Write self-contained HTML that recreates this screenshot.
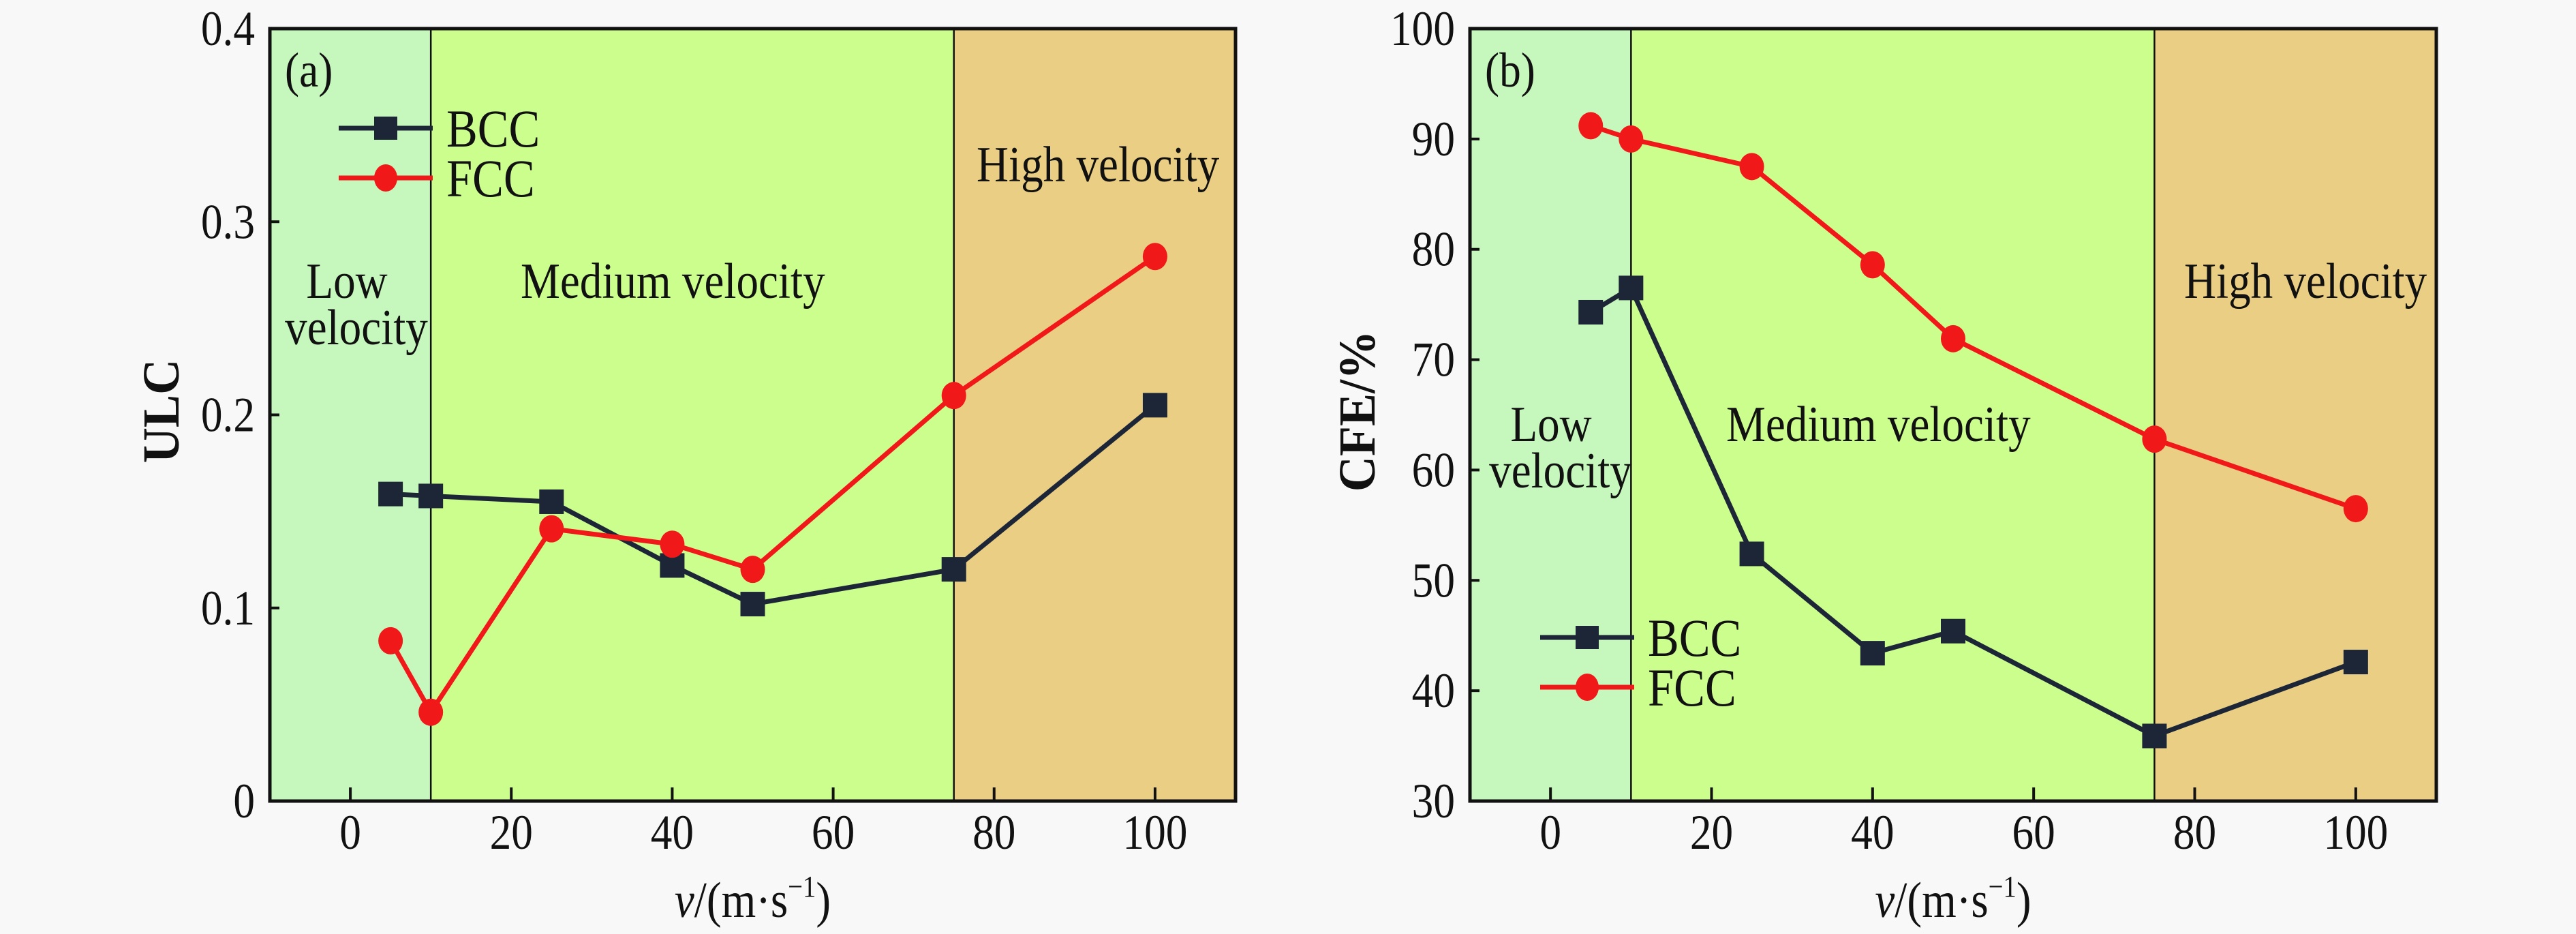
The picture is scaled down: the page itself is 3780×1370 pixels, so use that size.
<!DOCTYPE html>
<html><head><meta charset="utf-8"><style>
html,body{margin:0;padding:0;background:#f8f8f8;}
svg{display:block;}
svg text{font-family:"Liberation Serif","DejaVu Serif",serif;fill:#111;}
</style></head><body>
<svg id="chart" width="3780" height="1370" viewBox="0 0 3780 1370" xmlns="http://www.w3.org/2000/svg" font-family="Liberation Serif, DejaVu Serif, serif">
<rect x="0" y="0" width="3780" height="1370" fill="#f8f8f8"/>
</svg>
<script>
// ---- data ----
const velocities = [5, 10, 25, 40, 50, 75, 100];
const ulcBCC = [0.159, 0.158, 0.155, 0.122, 0.102, 0.120, 0.205];
const ulcFCC = [0.083, 0.046, 0.141, 0.133, 0.120, 0.210, 0.282];
const cfeBCC = [74.3, 76.5, 52.4, 43.4, 45.4, 35.9, 42.6];
const cfeFCC = [91.2, 90.0, 87.5, 78.6, 71.9, 62.8, 56.5];
const xTicks = [0, 20, 40, 60, 80, 100];
const ulcTicks = [0, 0.1, 0.2, 0.3, 0.4];
const ulcTickLabels = ["0", "0.1", "0.2", "0.3", "0.4"];
const cfeTicks = [30, 40, 50, 60, 70, 80, 90, 100];
const cfeTickLabels = ["30", "40", "50", "60", "70", "80", "90", "100"];
const regionBounds = [-10, 10, 75, 110];

const NS = "http://www.w3.org/2000/svg";
const svg = document.getElementById("chart");
const FONT = "'Liberation Serif', 'DejaVu Serif', serif";
function mk(tag, attrs, parent) {
  const e = document.createElementNS(NS, tag);
  for (const k in attrs) e.setAttribute(k, attrs[k]);
  (parent || svg).appendChild(e);
  return e;
}
function txt(x, y, s, size, anchor, parent, weight) {
  const t = mk("text", {transform: "translate(" + x + "," + y + ") scale(0.88,1)", "font-size": size, "text-anchor": anchor || "start", "font-family": FONT}, parent);
  if (weight) t.setAttribute("font-weight", weight);
  t.textContent = s;
  return t;
}

function panel(opt) {
  const g = mk("g", {});
  
  
  const L = opt.left, R = opt.right, T = 42, B = 1175;
  const xs = v => L + (v + 10) / 120 * (R - L);
  const ys = v => B - (v - opt.ymin) / (opt.ymax - opt.ymin) * (B - T);
  const colors = ["#c6f8bd", "#ccfe8e", "#eace84"];
  const rnames = ["low-velocity-region", "medium-velocity-region", "high-velocity-region"];
  for (let i = 0; i < 3; i++) {
    const r = mk("rect", {x: xs(regionBounds[i]), y: T, width: xs(regionBounds[i + 1]) - xs(regionBounds[i]), height: B - T, fill: colors[i]}, g);
    
    
  }
  [1, 2].forEach(i => {
    const l = mk("line", {x1: xs(regionBounds[i]), x2: xs(regionBounds[i]), y1: T, y2: B, stroke: "#111", "stroke-width": 2.5}, g);
    
    
  });
  xTicks.forEach(v => {
    const t = mk("line", {x1: xs(v), x2: xs(v), y1: B, y2: B - 20, stroke: "#111", "stroke-width": 4}, g);
    
    
    const lb = txt(xs(v), 1245, String(v), 72, "middle", g);
    
    
  });
  opt.yticks.forEach((v, i) => {
    const t = mk("line", {x1: L, x2: L + 14, y1: ys(v), y2: ys(v), stroke: "#111", "stroke-width": 4}, g);
    
    
    const lb = txt(L - 22, ys(v) + 24, opt.ylabels[i], 72, "end", g);
    
    
  });
  const fr = mk("rect", {x: L, y: T, width: R - L, height: B - T, fill: "none", stroke: "#111", "stroke-width": 5}, g);
  
  
  function series(vals, color, marker, nm) {
    const pts = vals.map((v, i) => xs(velocities[i]) + "," + ys(v)).join(" ");
    const pl = mk("polyline", {points: pts, fill: "none", stroke: color, "stroke-width": 7, "stroke-linejoin": "round"}, g);
    
    
    vals.forEach((v, i) => {
      let m;
      if (marker === "sq") m = mk("rect", {x: xs(velocities[i]) - 18, y: ys(v) - 18, width: 36, height: 36, fill: color}, g);
      else m = mk("ellipse", {cx: xs(velocities[i]), cy: ys(v), rx: 18, ry: 20, fill: color}, g);
      
      
    });
  }
  series(opt.bcc, "#1d2636", "sq", "bcc");
  series(opt.fcc, "#f01818", "ci", "fcc");
  const lg = mk("g", {}, g);
  
  
  const lx1 = opt.legX, lx2 = opt.legX + 138, lm = (lx1 + lx2) / 2;
  mk("line", {x1: lx1, x2: lx2, y1: opt.legY, y2: opt.legY, stroke: "#1d2636", "stroke-width": 7}, lg);
  mk("rect", {x: lm - 17, y: opt.legY - 17, width: 34, height: 34, fill: "#1d2636"}, lg);
  const b = txt(lx2 + 20, opt.legY + 27, "BCC", 78, "start", lg);
  
  
  mk("line", {x1: lx1, x2: lx2, y1: opt.legY + 73, y2: opt.legY + 73, stroke: "#f01818", "stroke-width": 7}, lg);
  mk("ellipse", {cx: lm, cy: opt.legY + 73, rx: 17, ry: 20, fill: "#f01818"}, lg);
  const f = txt(lx2 + 20, opt.legY + 100, "FCC", 78, "start", lg);
  
  
  const pa = txt(L + 22, 127, opt.tag, 72, "start", g);
  
  
  const hv = txt(opt.high[0], opt.high[1], "High velocity", 74, "start", g);
  
  
  const mv = txt(opt.med[0], opt.med[1], "Medium velocity", 74, "start", g);
  
  
  const lw = txt(opt.low[0], opt.low[1], "Low", 74, "middle", g);
  
  
  const lw2 = txt(opt.low[0] + 14, opt.low[1] + 68, "velocity", 74, "middle", g);
  
  
  const xt = mk("text", {transform: "translate(" + xs(50) + ",1345) scale(0.88,1)", "font-size": 74, "text-anchor": "middle", "font-family": FONT}, g);
  xt.innerHTML = '<tspan font-style="italic">v</tspan>/(m·s<tspan font-size="44" dy="-30">−1</tspan><tspan dy="30">)</tspan>';
  
  
  const yt = mk("text", {transform: "translate(" + opt.ytX + ",603) rotate(-90) scale(0.95,1)", "font-size": 76, "text-anchor": "middle", "font-weight": "bold", "font-family": FONT}, g);
  yt.textContent = opt.ytitle;
  
  
}

panel({name: "panel-a-ulc", left: 396, right: 1813, ymin: 0, ymax: 0.4, yticks: ulcTicks, ylabels: ulcTickLabels,
  bcc: ulcBCC, fcc: ulcFCC, legX: 497, legY: 188, tag: "(a)", high: [1433, 266], med: [764, 437], low: [509, 437],
  ytitle: "ULC", ytX: 262});
panel({name: "panel-b-cfe", left: 2157, right: 3575, ymin: 30, ymax: 100, yticks: cfeTicks, ylabels: cfeTickLabels,
  bcc: cfeBCC, fcc: cfeFCC, legX: 2260, legY: 935, tag: "(b)", high: [3205, 437], med: [2533, 647], low: [2276, 647],
  ytitle: "CFE/%", ytX: 2017});
</script>
</body></html>
